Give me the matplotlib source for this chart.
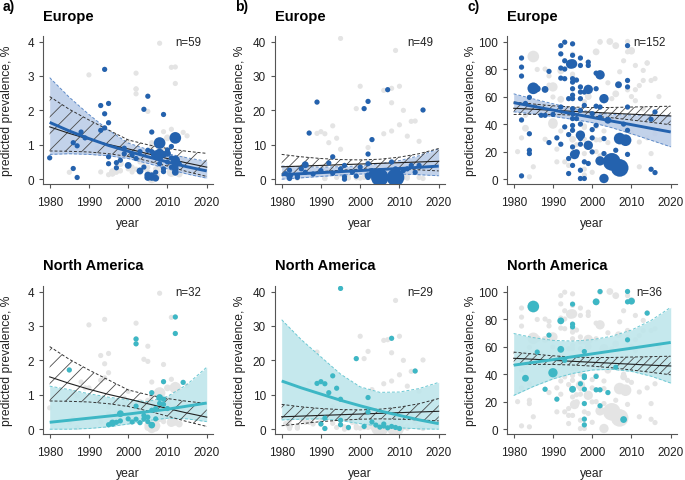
import matplotlib
matplotlib.use('Agg')
import matplotlib.pyplot as plt
import numpy as np

plt.rcParams['font.family'] = ['Liberation Sans', 'DejaVu Sans']
plt.rcParams['hatch.linewidth'] = 0.6

# ---------------- data ----------------
fit_years = [1980, 1985, 1990, 1995, 2000, 2005, 2010, 2015, 2020]

# metric 1 (0-4 %)
glob1_mid = [1.52, 1.33, 1.16, 1.01, 0.88, 0.74, 0.60, 0.47, 0.35]
glob1_up = [2.40, 2.03, 1.72, 1.43, 1.14, 1.00, 0.89, 0.81, 0.75]
glob1_lo = [0.82, 0.81, 0.79, 0.74, 0.66, 0.53, 0.38, 0.22, 0.08]
eu1_mid = [1.65, 1.40, 1.18, 0.98, 0.81, 0.65, 0.50, 0.36, 0.24]
eu1_up = [2.95, 2.38, 1.88, 1.42, 1.05, 0.86, 0.74, 0.62, 0.52]
eu1_lo = [0.72, 0.74, 0.72, 0.68, 0.60, 0.46, 0.30, 0.15, 0.03]
na1_mid = [0.20, 0.26, 0.32, 0.38, 0.44, 0.51, 0.58, 0.67, 0.76]
na1_up = [1.25, 1.15, 1.03, 0.93, 0.85, 0.80, 0.95, 1.30, 1.80]
na1_lo = [0.00, 0.00, 0.02, 0.07, 0.15, 0.25, 0.32, 0.30, 0.22]

# metric 2 (0-40 %)
glob2_mid = [3.6, 3.8, 4.0, 4.2, 4.4, 4.6, 4.8, 5.0, 5.2]
glob2_up = [7.2, 6.5, 6.0, 5.7, 5.6, 5.8, 6.4, 7.4, 8.9]
glob2_lo = [1.0, 1.6, 2.2, 2.6, 2.9, 3.0, 2.9, 2.7, 2.4]
eu2_mid = [1.3, 1.6, 1.9, 2.2, 2.5, 2.8, 3.1, 3.45, 3.8]
eu2_up = [3.8, 3.6, 3.5, 3.6, 3.9, 4.5, 5.4, 6.8, 8.8]
eu2_lo = [0.0, 0.4, 0.8, 1.2, 1.5, 1.6, 1.5, 1.3, 1.0]
na2_mid = [14.0, 12.0, 10.2, 8.4, 6.8, 5.3, 4.0, 2.7, 1.6]
na2_up = [31.8, 26.0, 21.0, 16.0, 12.3, 10.7, 10.8, 11.8, 13.6]
na2_lo = [2.7, 2.9, 3.0, 2.5, 1.6, 0.9, 0.4, 0.1, 0.0]

# metric 3 (0-100 %)
glob3_mid = [51.5, 50.8, 50.0, 49.3, 48.6, 47.9, 47.2, 46.5, 45.9]
glob3_up = [56.0, 54.6, 53.3, 52.4, 52.0, 52.1, 52.4, 52.7, 53.0]
glob3_lo = [47.0, 47.1, 47.0, 46.6, 45.8, 44.6, 43.0, 41.3, 39.5]
eu3_mid = [55.6, 52.9, 50.2, 47.5, 44.9, 42.2, 39.6, 36.9, 34.3]
eu3_up = [62.0, 58.3, 54.8, 51.5, 48.6, 47.0, 46.5, 46.4, 46.4]
eu3_lo = [49.0, 47.4, 45.6, 43.5, 41.1, 37.4, 33.0, 28.3, 23.5]
na3_mid = [46.5, 48.5, 50.5, 52.6, 54.7, 56.8, 58.8, 60.9, 63.0]
na3_up = [69.5, 66.5, 64.5, 64.0, 65.0, 67.5, 72.0, 79.0, 88.5]
na3_lo = [24.5, 31.0, 36.5, 40.5, 43.0, 43.5, 42.0, 38.5, 33.5]

# ---- study points, metric 1 ----
eu1_year = [1980, 1986, 1986, 1987, 1987, 1988, 1989, 1993, 1993, 1994, 1994, 1994, 1995, 1995,
            1995, 1995, 1997, 1997, 1999, 1999, 2000, 2003, 2004, 2005, 2005, 2005, 2005, 2006,
            2006, 2006, 2007, 2007, 2007, 2008, 2008, 2008, 2009, 2009, 2009, 2009, 2010, 2010,
            2011, 2011, 2012, 2012, 2012, 2012, 2012, 2013, 2006, 2004, 2003, 2002, 2001, 1998,
            2010, 2011, 2008]
eu1_val = [0.62, 0.31, 1.06, 0.05, 0.97, 1.37, 1.20, 2.14, 1.42, 3.19, 1.90, 1.49, 2.20, 1.64,
           0.65, 0.45, 0.48, 0.33, 0.90, 0.74, 0.40, 0.24, 2.03, 2.41, 0.84, 0.12, 0.05, 1.37,
           0.05, 0.80, 0.03, 0.20, 0.70, 1.05, 0.75, 0.62, 1.88, 0.72, 0.30, 0.22, 0.75, 0.50,
           0.35, 0.62, 1.20, 0.55, 0.40, 0.20, 0.30, 0.45, 0.10, 0.35, 0.80, 0.60, 0.70, 0.55,
           0.85, 0.95, 0.45]
eu1_w = [1, 1, 1, 1, 1, 1, 1, 1, 1, 1, 1, 1, 1, 1,
         1, 1, 1, 1, 1, 1, 2, 2, 1, 1, 1, 2, 2, 1,
         2, 1, 2, 1, 3, 4, 3, 2, 1, 2, 1, 1, 2, 1,
         1, 1, 4, 3, 2, 2, 2, 1, 2, 1, 1, 1, 1, 1,
         1, 1, 1]

na1_year = [1985, 1995, 1996, 1996, 1997, 1998, 1998, 2001, 2002, 2002, 2002, 2002, 2003, 2004,
            2004, 2005, 2005, 2006, 2006, 2006, 2007, 2008, 2008, 2009, 2009, 2009, 2010, 2012,
            2012, 2014, 2000, 2007]
na1_val = [1.72, 0.13, 0.18, 0.15, 0.20, 0.45, 0.24, 0.21, 2.62, 2.48, 0.67, 0.29, 0.19, 0.40,
           0.30, 0.35, 0.22, 1.06, 0.12, 0.55, 0.30, 0.92, 0.75, 1.38, 0.87, 0.72, 0.60, 3.26,
           2.78, 1.36, 0.30, 0.60]
na1_w = [1, 1, 2, 1, 1, 2, 1, 1, 1, 1, 1, 1, 1, 1,
         1, 1, 1, 1, 2, 1, 1, 2, 1, 1, 1, 1, 1, 1,
         1, 1, 1, 1]

oth1_year = [2008, 2011, 1990, 2002, 2005, 2011, 2015, 2012, 2010, 2006, 2001, 2003, 2007, 2006,
             2008, 2011, 2013, 1992, 1990, 1997, 2014, 1998, 1996, 1985, 2000, 2004, 2002, 1993]
oth1_val = [3.95, 3.25, 3.03, 3.08, 1.97, 1.45, 1.26, 1.30, 1.20, 0.95, 0.35, 0.50, 0.10, 0.02,
            0.30, 0.20, 0.15, 0.90, 1.20, 0.80, 0.60, 0.25, 0.22, 0.20, 1.10, 0.70, 2.62, 0.21]
oth1_w = [1, 1, 1, 1, 1, 1, 1, 1, 2, 1, 1, 1, 3, 3,
          2, 3, 2, 1, 1, 1, 1, 1, 2, 1, 1, 1, 1, 1]

# ---- study points, metric 2 ----
eu2_year = [1981, 1982, 1982, 1982, 1984, 1984, 1986, 1986, 1987, 1989, 1992, 1993, 1993, 1996,
            1996, 1996, 1999, 2001, 2002, 2002, 2002, 2002, 2002, 2003, 2003, 2003, 2004, 2005,
            2005, 2006, 2007, 2007, 2008, 2008, 2009, 2009, 2010, 2011, 2012, 2016, 1990, 1995,
            1998, 2000, 2014, 2013, 1988, 1985, 2015]
eu2_val = [1.6, 2.6, 0.2, 1.0, 0.5, 1.0, 4.2, 2.0, 13.4, 22.4, 4.7, 6.5, 1.7, 4.0,
           0.7, 0.0, 0.9, 20.5, 22.6, 7.3, 4.5, 1.0, 0.5, 11.5, 1.5, 2.5, 2.2, 0.5,
           1.8, 1.0, 26.0, 0.5, 5.0, 1.0, 0.5, 3.0, 0.8, 2.5, 3.0, 20.1, 2.5, 3.0,
           2.0, 3.5, 2.0, 4.0, 1.5, 3.0, 4.0]
eu2_w = [1, 1, 1, 2, 1, 1, 2, 1, 1, 1, 1, 1, 1, 1,
         1, 1, 1, 1, 1, 1, 1, 2, 1, 1, 2, 1, 1, 5,
         1, 1, 1, 1, 1, 1, 5, 1, 1, 1, 1, 1, 1, 1,
         1, 1, 1, 1, 1, 1, 1]

na2_year = [1989, 1990, 1991, 1990, 1991, 1991, 1992, 1993, 1994, 1995, 1995, 1995, 1995, 1999,
            2001, 2002, 2003, 2004, 2005, 2006, 2007, 2008, 2008, 2009, 2010, 2014, 2002, 2006,
            1997]
na2_val = [13.3, 13.8, 13.2, 1.5, 0.2, 3.2, 10.6, 15.5, 11.9, 8.7, 40.9, 2.6, 1.3, 20.5,
           0.8, 9.2, 2.1, 1.2, 0.6, 1.5, 0.4, 26.4, 0.8, 0.5, 0.2, 16.9, 5.0, 0.9,
           0.5]
na2_w = [1] * 29

oth2_year = [2009, 2000, 2006, 2010, 2008, 2011, 2013, 2010, 2006, 2008, 2012, 2015, 1982, 1984,
             1991, 1994, 1997, 2000, 2001, 2004, 2011, 2012, 2015, 2016, 1987, 2006, 2007, 2012,
             1999, 2003]
oth2_val = [37.4, 27.0, 25.8, 27.0, 22.2, 20.0, 16.8, 15.8, 13.2, 14.0, 12.5, 11.0, 0.5, 0.3,
            0.2, 0.5, 0.3, 0.3, 0.5, 0.2, 0.5, 0.3, 0.5, 0.2, 2.0, 0.3, 0.8, 1.0,
            0.4, 0.6]
oth2_w = [1, 1, 1, 1, 1, 1, 1, 1, 1, 1, 1, 1, 1, 1,
          1, 1, 1, 1, 1, 1, 1, 1, 1, 1, 1, 3, 2, 1,
          1, 1]

# ---- study points, metric 3 ----
eu3_year = [1982, 1982, 1982, 1982, 1982, 1984, 1984, 1984, 1984, 1985, 1986, 1987, 1988, 1988,
            1989, 1989, 1992, 1992, 1992, 1992, 1992, 1992, 1993, 1993, 1993, 1993, 1993, 1994,
            1994, 1994.5, 1994, 1995, 1995, 1995, 1995, 1995, 1995, 1995, 1995, 1995, 1995, 1995,
            1995, 1995.5, 1995, 1996, 1996, 1997, 1997, 1997, 1997, 1997, 1997, 1997, 1997, 1997,
            1997, 1997, 1998, 1998, 1998, 1998, 1999, 1999, 1999, 1999, 1999, 2000, 2000, 2000,
            2001, 2001, 2001, 2001, 2002, 2002, 2002, 2003, 2003, 2003, 2003, 2004, 2005, 2006,
            2006.7, 2007, 2007, 2008.5, 2009, 2009, 2009, 2009, 2009, 2009, 2009, 2015, 2015,
            2016, 2016, 1983, 1990, 1991, 1995, 1995, 1997, 1996, 1994, 2000, 2002, 2008]
eu3_val = [88.0, 81.4, 74.9, 43.0, 2.4, 59.4, 33.0, 21.0, 18.6, 66.0, 65.7, 46.4, 65.2, 46.4,
           78.3, 26.6, 97.0, 91.0, 73.4, 25.4, 80.7, 52.4, 99.5, 86.0, 73.0, 38.0, 80.0, 4.1,
           32.4, 83.6, 58.5, 98.3, 83.8, 73.0, 70.5, 65.7, 58.5, 51.2, 47.6, 44.0, 39.0, 35.5,
           23.4, 17.9, 10.0, 19.3, 44.0, 88.0, 82.6, 67.0, 63.3, 58.5, 50.0, 32.0, 29.5, 25.4,
           6.5, 0.5, 0.5, 63.3, 53.6, 12.6, 85.0, 82.6, 65.2, 24.6, 11.4, 30.0, 47.6, 19.8,
           77.0, 65.7, 53.0, 39.1, 75.8, 13.3, 52.4, 58.5, 0.5, 18.6, 29.5, 42.8, 12.6, 21.0,
           68.6, 8.2, 29.5, 28.3, 97.0, 71.7, 67.0, 52.4, 35.5, 27.0, 18.0, 43.5, 7.2,
           4.8, 48.8, 55.0, 47.0, 30.0, 90.0, 61.0, 40.0, 72.0, 15.0, 36.0, 45.0, 40.0]
eu3_w = [1, 1, 1, 1, 1, 1, 1, 1, 1, 4, 2, 1, 2, 1,
         1, 1, 1, 1, 1, 1, 1, 1, 1, 1, 1, 1, 1, 1,
         1, 3, 1, 1, 3, 1, 1, 1, 1, 1, 1, 1, 1, 1,
         1, 3, 1, 2, 1, 1, 1, 1, 1, 1, 1, 3, 1, 1,
         1, 1, 1, 1, 1, 1, 1, 1, 3, 3, 1, 1, 1, 1,
         1, 1, 1, 1, 3, 3, 1, 3, 3, 1, 1, 2, 5, 1,
         2, 5, 4, 4, 1, 1, 1, 1, 1, 1, 1, 1, 1,
         1, 1, 1, 1, 1, 1, 1, 1, 1, 1, 1, 1, 1]

na3_year = [1985, 1983, 1986, 1989, 1988, 1990, 1991, 1992, 1992, 1995, 1995, 1995, 1995, 1998,
            1998, 1998, 1998, 1998, 1998, 1998, 2001, 2001, 2001, 2002, 2002, 2002, 2004, 2008,
            2009, 2009, 2010, 2009, 2014, 1993, 2006, 1997]
na3_val = [89.1, 37.0, 56.0, 68.3, 29.0, 41.0, 21.8, 78.7, 58.0, 90.8, 76.3, 74.3, 29.0, 56.4,
           38.7, 37.5, 29.0, 18.6, 7.3, 3.1, 92.5, 38.3, 28.6, 100.0, 28.6, 17.0, 26.6, 7.0,
           100.0, 92.5, 93.0, 64.9, 84.3, 50.0, 45.0, 33.0]
na3_w = [4, 2, 1, 1, 1, 3, 1, 2, 2, 1, 1, 1, 2, 1,
         1, 1, 1, 1, 1, 1, 2, 1, 1, 1, 1, 1, 1, 2,
         1, 1, 2, 1, 1, 1, 1, 1]

oth3_year = [2004.5, 2006, 2010, 2007, 2011, 2013, 2014, 2013, 2015, 2016, 2012, 2011, 2013, 2010,
             2012, 2015, 2012, 1990, 1990, 1988, 1986, 1983, 1984, 1985, 1990, 1991, 1993, 2002,
             2005, 2007, 2008, 2001, 2003, 1999, 1996, 1992, 1987, 1981, 1982, 2014, 2016, 2011,
             2006, 2004, 2000, 1994, 1989, 2010, 2017, 2008]
oth3_val = [100.0, 97.0, 93.5, 78.0, 82.6, 79.0, 84.5, 71.7, 71.7, 73.0, 68.0, 57.0, 51.0, 34.0,
            27.0, 18.6, 9.0, 59.7, 67.0, 80.0, 79.7, 46.4, 1.7, 9.0, 40.0, 12.6, 12.6, 99.5,
            58.5, 45.0, 38.0, 20.0, 35.0, 60.0, 25.0, 35.0, 55.0, 20.0, 30.0, 30.0, 33.0, 65.0,
            62.0, 70.0, 5.0, 10.0, 75.0, 60.0, 60.0, 86.0]
oth3_w = [2, 2, 2, 1, 1, 1, 1, 1, 1, 1, 1, 1, 1, 1,
          1, 1, 1, 1, 3, 1, 1, 1, 1, 1, 3, 1, 1, 1,
          1, 2, 2, 1, 1, 2, 1, 1, 1, 1, 1, 1, 1, 1,
          2, 1, 1, 1, 1, 1, 1, 1]

panel_letters = ['a)', 'b)', 'c)']
region_titles = ['Europe', 'North America']
n_labels = [['n=59', 'n=49', 'n=152'], ['n=32', 'n=29', 'n=36']]
y_ticks = [[0, 1, 2, 3, 4], [0, 10, 20, 30, 40], [0, 20, 40, 60, 80, 100]]
x_ticks = [1980, 1990, 2000, 2010, 2020]

# ---------------- styles ----------------
BLUE = '#2462ae'
BLUE_BAND = '#bccde8'
BLUE_EDGE = '#5e8bc8'
TEAL = '#3db7c5'
TEAL_BAND = '#bfe6eb'
TEAL_EDGE = '#6cc8d3'
GRAY = '#e4e4e4'
SIZE_MAP = {1: 14, 2: 24, 3: 45, 4: 70, 5: 160}
HATCHES = ['//', '///', '////']

W, H = 685, 481
fig = plt.figure(figsize=(W / 100, H / 100), dpi=100)

col_left = [43, 275, 507]
row_top = [37, 287]
AX_W, AX_H = 170, 148
y_lims = [(-0.14, 4.16), (-1.4, 41.6), (-3.5, 104)]
x_lim = (1978.3, 2021.6)

glob = [(glob1_mid, glob1_up, glob1_lo), (glob2_mid, glob2_up, glob2_lo), (glob3_mid, glob3_up, glob3_lo)]
reg_fits = [
    [(eu1_mid, eu1_up, eu1_lo), (eu2_mid, eu2_up, eu2_lo), (eu3_mid, eu3_up, eu3_lo)],
    [(na1_mid, na1_up, na1_lo), (na2_mid, na2_up, na2_lo), (na3_mid, na3_up, na3_lo)],
]
reg_pts = [
    [(eu1_year, eu1_val, eu1_w), (eu2_year, eu2_val, eu2_w), (eu3_year, eu3_val, eu3_w)],
    [(na1_year, na1_val, na1_w), (na2_year, na2_val, na2_w), (na3_year, na3_val, na3_w)],
]
oth_pts = [(oth1_year, oth1_val, oth1_w), (oth2_year, oth2_val, oth2_w), (oth3_year, oth3_val, oth3_w)]
reg_colors = [(BLUE, BLUE_BAND, BLUE_EDGE), (TEAL, TEAL_BAND, TEAL_EDGE)]

n_x = [2015.2, 2015.2, 2014.6]

for r in range(2):
    for c in range(3):
        l = col_left[c]
        t = row_top[r]
        ax = fig.add_axes([l / W, 1 - (t + AX_H) / H, AX_W / W, AX_H / H])
        ax.set_xlim(*x_lim)
        ax.set_ylim(*y_lims[c])
        # all points in grey
        gy = list(reg_pts[0][c][0]) + list(reg_pts[1][c][0]) + list(oth_pts[c][0])
        gv = list(reg_pts[0][c][1]) + list(reg_pts[1][c][1]) + list(oth_pts[c][1])
        gw = list(reg_pts[0][c][2]) + list(reg_pts[1][c][2]) + list(oth_pts[c][2])
        ax.scatter(gy, gv, s=[SIZE_MAP[w] for w in gw], color=GRAY, linewidths=0, zorder=1)

        col, band, edge = reg_colors[r]
        mid, up, lo = reg_fits[r][c]
        ax.fill_between(fit_years, lo, up, color=band, alpha=0.9, linewidth=0, zorder=2)
        ax.plot(fit_years, up, color=edge, lw=0.7, ls=(0, (3, 2)), zorder=2.1)
        ax.plot(fit_years, lo, color=edge, lw=0.7, ls=(0, (3, 2)), zorder=2.1)

        gmid, gup, glo = glob[c]
        ax.fill_between(fit_years, glo, gup, facecolor='none', edgecolor='#4a4a4a',
                        hatch=HATCHES[c], linewidth=0, zorder=3)
        ax.plot(fit_years, gup, color='#333333', lw=0.7, ls=(0, (3, 2)), zorder=3.1)
        ax.plot(fit_years, glo, color='#333333', lw=0.7, ls=(0, (3, 2)), zorder=3.1)
        ax.plot(fit_years, gmid, color='#222222', lw=0.8, zorder=3.2)

        py, pv, pw = reg_pts[r][c]
        ax.scatter(py, pv, s=[SIZE_MAP[w] for w in pw], color=col, linewidths=0, zorder=4)
        ax.plot(fit_years, mid, color=col, lw=2.1, zorder=5, solid_capstyle='butt')

        ax.spines['top'].set_visible(False)
        ax.spines['right'].set_visible(False)
        for s in ('left', 'bottom'):
            ax.spines[s].set_color('#555555')
            ax.spines[s].set_linewidth(0.8)
        ax.set_xticks(x_ticks)
        ax.set_yticks(y_ticks[c])
        ax.tick_params(axis='both', direction='out', length=3, width=0.8, color='#555555',
                       labelsize=8.5, labelcolor='#222222')
        ax.tick_params(axis='x', pad=6)
        ax.tick_params(axis='y', pad=3.5)

        ax.text(n_x[c], y_ticks[c][-1], n_labels[r][c], ha='center', va='center',
                fontsize=8.3, color='#222222', zorder=6)

        # titles and labels
        fig.text(l / W, 1 - (t - 16.5) / H, region_titles[r], fontsize=10.5,
                 fontweight='bold', ha='left', va='baseline')
        fig.text((l - 35.5) / W, 1 - (t + AX_H / 2) / H, 'predicted prevalence, %',
                 rotation=90, ha='center', va='center', fontsize=8.7, color='#222222')
        fig.text((l + AX_W / 2) / W, 1 - (t + AX_H + 42.5) / H, 'year', ha='center',
                 va='baseline', fontsize=8.7, color='#222222')
        if r == 0:
            fig.text((l - 40) / W, 1 - 11.5 / H, panel_letters[c], fontsize=10,
                     fontweight='bold', ha='left', va='baseline')

fig.savefig('out.png', dpi=100)
